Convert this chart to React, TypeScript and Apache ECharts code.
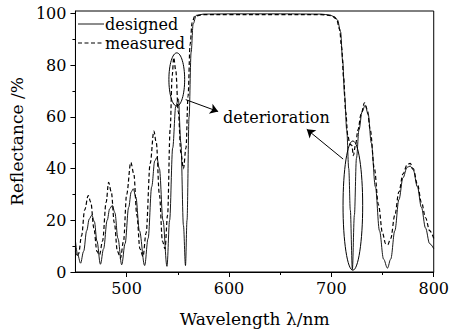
import React, { useEffect, useRef } from "react";
import * as echarts from "echarts";

const designedWl = [
  450, 452, 455, 458, 461, 463.5, 466, 468.5, 471, 474.4, 477.5, 481, 483.5, 486, 488.5, 491.5, 495.2,
  498.5, 502, 504.5, 506.5, 509, 512.5, 517.6, 521, 524.5, 527.5, 529.5, 532, 535.5, 539.4, 542, 545,
  548, 550.5, 553, 555.5, 557.5, 559, 561, 563, 565, 568, 575, 600, 650, 690, 698, 703, 706, 709, 711,
  713, 715, 717, 718.5, 720.5, 722.5, 724.5, 727, 730, 733, 736, 739, 743, 747, 751, 754.8, 758, 762,
  766, 770, 774, 777, 780, 784, 788, 792, 796, 800,
];
const designedR = [
  12, 7, 3.4, 8, 16, 20.5, 22, 19.5, 12, 3, 9, 20, 24.5, 25.8, 23, 13, 2.8,
  11, 25, 31, 32.2, 29, 16, 2.5, 13, 33, 43, 44.3, 40, 20, 2.2, 20, 48,
  64, 67, 50, 18, 2.5, 20, 60, 85, 96, 99.3, 99.8, 99.9, 99.9, 99.8, 99.5, 98.8, 97.5, 93, 82,
  68, 55, 40, 24, 1, 22, 44, 55, 62, 64.5, 61, 50, 33, 16, 5, 1.5, 5, 16,
  28, 36.5, 40.5, 41, 39.5, 33, 25, 17, 11, 9,
];

const measuredWl = [
  450, 451.5, 453, 456, 459, 462.5, 465, 468, 471, 473.5, 476.5, 480, 482.4, 485, 488, 491, 494,
  497, 500, 504.1, 507, 510, 513, 516, 519, 523, 526.6, 529, 532, 535, 537.5, 540, 542.5, 544.5,
  546, 548, 550.5, 553, 555.5, 558, 560, 562, 564, 566.5, 575, 600, 650, 690, 700, 705, 708, 710,
  712, 714, 716, 718, 720, 721.5, 723.5, 726, 729, 732.4, 735, 738, 742, 746, 750, 753, 755, 758,
  762, 766, 770, 774, 777, 780, 784, 788, 792, 796, 800,
];
const measuredR = [
  8, 6, 7, 14, 24, 29.6, 27, 17, 8, 6.6, 12, 27, 34.7, 31, 19, 8, 5.4,
  12, 30, 42.4, 38, 22, 9, 6, 15, 42, 54.5, 50, 30, 12, 9, 22, 55, 76,
  83, 78, 62, 46, 40, 48, 68, 88, 96.5, 99, 99.6, 99.6, 99.6, 99.6, 99.2, 98, 94, 87,
  75, 62, 53, 49.5, 49, 45, 49, 55, 61, 65.5, 63, 55, 40, 26, 15, 11, 10.5, 13,
  22, 31, 38, 41.5, 42, 40, 34, 27, 21, 16, 13,
];

const xLabels = [500, 600, 700, 800];
const xMinor = [550, 650, 750];
const yLabels = [0, 20, 40, 60, 80, 100];
const yMinor = [10, 30, 50, 70, 90];

const seriesNames = ["designed", "measured"];
const annotationText = "deterioration";
// ellipse centers and half-sizes in data units: [x, y, rx(nm), ry(%)]
const ellipses = [
  [549, 74.5, 7.7, 10.3],
  [721, 25.7, 9.6, 25],
];
const arrows = [
  [[557.7, 66.7], [589.4, 62.1]],
  [[711.5, 43.7], [676, 55.2]],
];
const textPos = [594.2, 59.8];

const FONT = "'DejaVu Serif', 'Liberation Serif', serif";
const DASH = [4, 2.5];

export default function App() {
  const ref = useRef<HTMLDivElement>(null);
  useEffect(() => {
    if (!ref.current) return;
    const chart = echarts.init(ref.current, null, { renderer: "svg" });
    const designed = designedWl.map((w, i) => [w, designedR[i]]);
    const measured = measuredWl.map((w, i) => [w, measuredR[i]]);
    const axisCommon = {
      axisLine: { show: true, lineStyle: { color: "#000", width: 1 } },
      splitLine: { show: false },
    };
    chart.setOption({
      animation: false,
      backgroundColor: "#fff",
      textStyle: { fontFamily: FONT, color: "#000" },
      grid: {
        left: 73,
        right: 15,
        top: 11,
        bottom: 58,
        show: true,
        borderColor: "#000",
        borderWidth: 1,
      },
      xAxis: [
        {
          type: "value",
          min: 450,
          max: 800,
          ...axisCommon,
          name: "Wavelength \u03bb/nm",
          nameLocation: "middle",
          nameGap: 38,
          nameTextStyle: { fontFamily: FONT, fontSize: 17, color: "#000" },
          axisTick: { show: true, length: 5, inside: false, customValues: xLabels, lineStyle: { color: "#000" } },
          axisLabel: { customValues: xLabels, fontFamily: FONT, fontSize: 16, color: "#000", margin: 8 },
        },
        {
          type: "value",
          min: 450,
          max: 800,
          position: "bottom",
          axisLine: { show: false },
          splitLine: { show: false },
          axisTick: { show: true, length: 3, customValues: xMinor, lineStyle: { color: "#000" } },
          axisLabel: { show: false },
        },
      ],
      yAxis: [
        {
          type: "value",
          min: 0,
          max: 101,
          ...axisCommon,
          name: "Reflectance /%",
          nameLocation: "middle",
          nameGap: 48,
          nameTextStyle: { fontFamily: FONT, fontSize: 17, color: "#000" },
          axisTick: { show: true, length: 5, customValues: yLabels, lineStyle: { color: "#000" } },
          axisLabel: { customValues: yLabels, fontFamily: FONT, fontSize: 16, color: "#000", margin: 9 },
        },
        {
          type: "value",
          min: 0,
          max: 101,
          position: "left",
          axisLine: { show: false },
          splitLine: { show: false },
          axisTick: { show: true, length: 3, customValues: yMinor, lineStyle: { color: "#000" } },
          axisLabel: { show: false },
        },
      ],
      series: [
        {
          name: seriesNames[0],
          type: "line",
          data: designed,
          xAxisIndex: 0,
          yAxisIndex: 0,
          showSymbol: false,
          symbol: "none",
          smooth: 0.35,
          smoothMonotone: "x",
          lineStyle: { color: "#000", width: 0.9 },
          itemStyle: { color: "#000" },
          markLine: {
            silent: true,
            symbol: ["none", "arrow"],
            symbolSize: 8,
            label: { show: false },
            lineStyle: { color: "#000", width: 1, type: "solid" },
            data: arrows.map(([a, b]) => [{ coord: a }, { coord: b }]),
          },
        },
        {
          name: seriesNames[1],
          type: "line",
          data: measured,
          xAxisIndex: 0,
          yAxisIndex: 0,
          showSymbol: false,
          symbol: "none",
          smooth: 0.35,
          smoothMonotone: "x",
          lineStyle: { color: "#000", width: 1.2, type: DASH },
          itemStyle: { color: "#000" },
        },
      ],
    });

    const toPx = (p: number[]) => chart.convertToPixel({ xAxisIndex: 0, yAxisIndex: 0 }, p) as number[];
    const graphics: any[] = ellipses.map(([cx, cy, rx, ry]) => {
      const c = toPx([cx, cy]);
      const e = toPx([cx + rx, cy + ry]);
      return {
        type: "ellipse",
        shape: { cx: c[0], cy: c[1], rx: Math.abs(e[0] - c[0]), ry: Math.abs(c[1] - e[1]) },
        style: { fill: "none", stroke: "#000", lineWidth: 1 },
        silent: true,
        z: 100,
      };
    });
    const tp = toPx(textPos);
    graphics.push({
      type: "text",
      x: tp[0],
      y: tp[1],
      style: {
        text: annotationText,
        fontFamily: FONT,
        fontSize: 16,
        fill: "#000",
        align: "left",
        verticalAlign: "middle",
      },
      z: 100,
    });
    // legend (line samples + labels)
    seriesNames.forEach((name, i) => {
      const y = 24 + i * 19;
      graphics.push({
        type: "line",
        shape: { x1: 78, y1: y, x2: 104, y2: y },
        style: { stroke: "#000", lineWidth: i === 0 ? 0.9 : 1.2, lineDash: i === 0 ? null : DASH },
        z: 100,
      });
      graphics.push({
        type: "text",
        x: 105,
        y,
        style: {
          text: name,
          fontFamily: FONT,
          fontSize: 16,
          fill: "#000",
          align: "left",
          verticalAlign: "middle",
        },
        z: 100,
      });
    });
    chart.setOption({ graphic: graphics });

    return () => chart.dispose();
  }, []);
  return (
    <div
      ref={ref}
      style={{ position: "fixed", left: 0, top: 0, width: 452, height: 332 }}
    />
  );
}
